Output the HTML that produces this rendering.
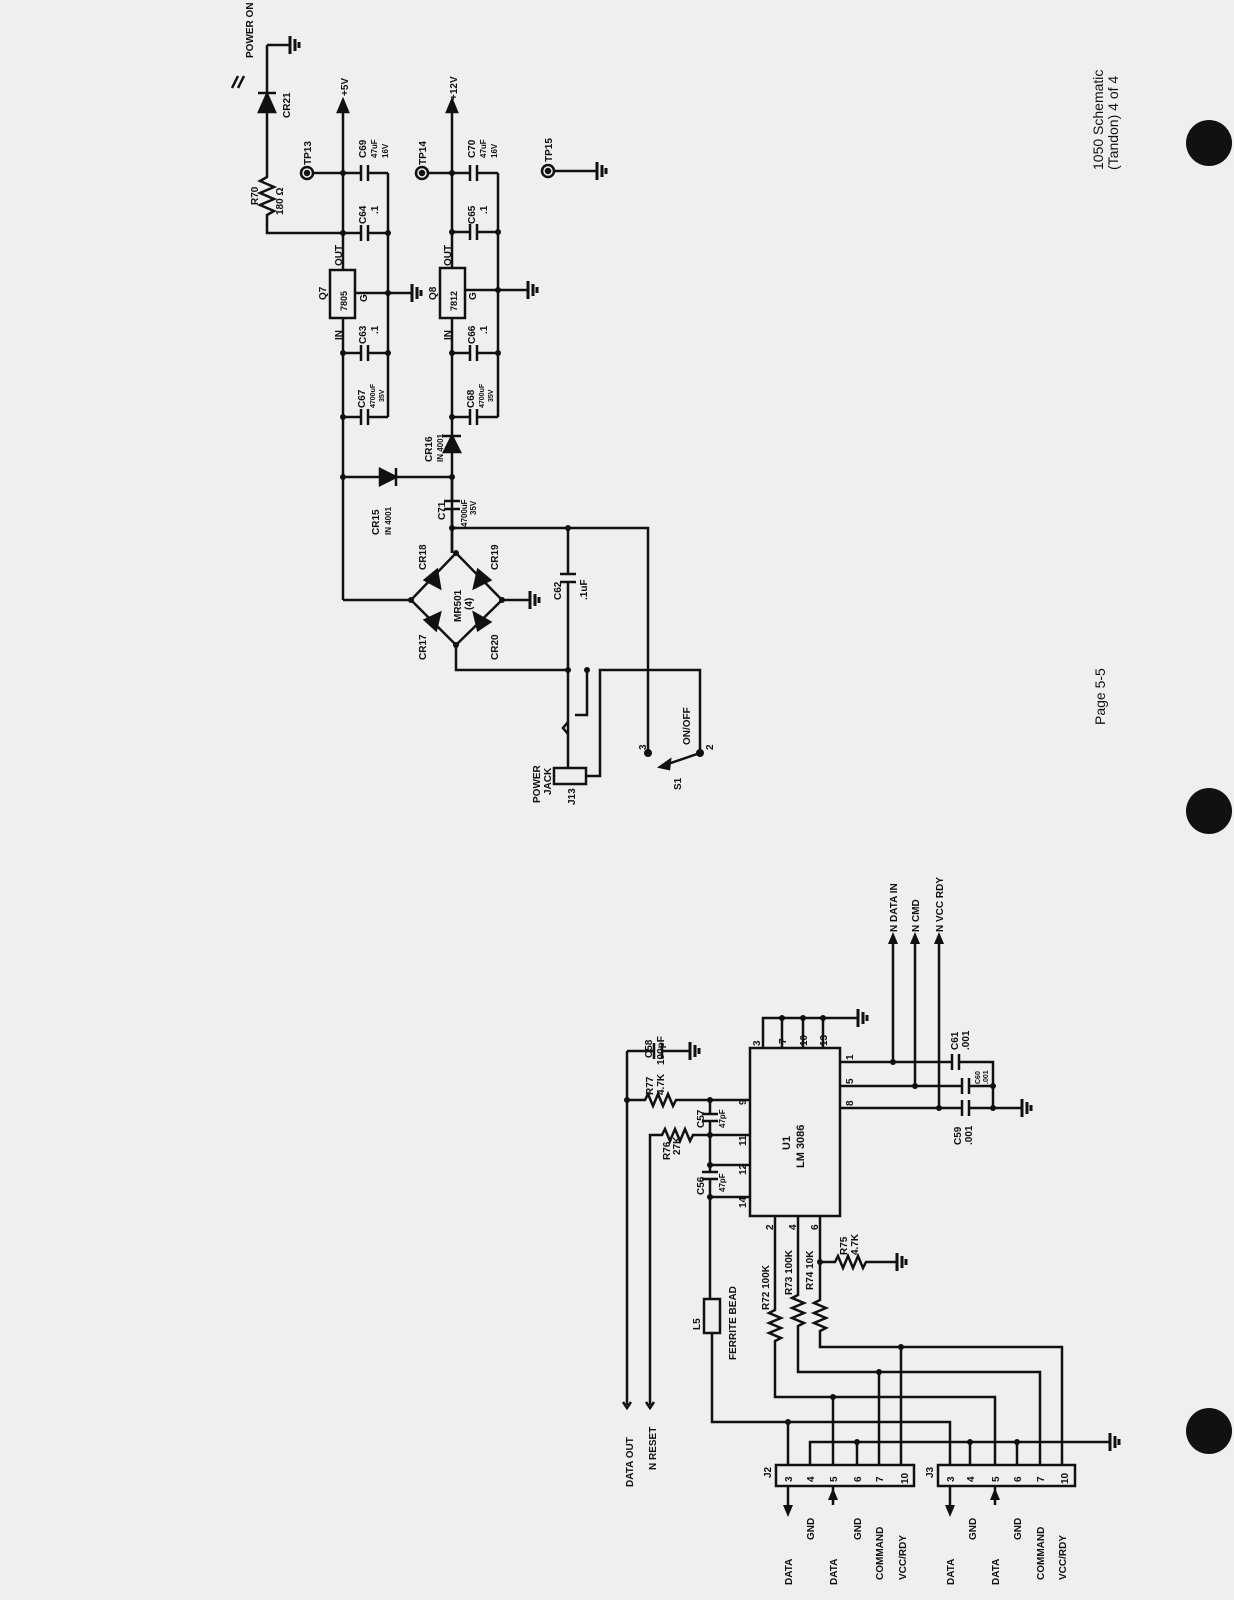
<!DOCTYPE html>
<html><head><meta charset="utf-8"><style>
html,body{margin:0;padding:0;background:#efefef;}
svg{display:block}
text{font-family:"Liberation Sans",sans-serif;fill:#111;font-weight:bold}
</style></head><body>
<svg width="1234" height="1600" viewBox="0 0 1234 1600" xmlns="http://www.w3.org/2000/svg">
<rect width="1234" height="1600" fill="#efefef"/>
<defs>
<g id="gndR"><line x1="0" y1="-9" x2="0" y2="9" stroke="#111" stroke-width="3"/><line x1="5" y1="-6" x2="5" y2="6" stroke="#111" stroke-width="3"/><line x1="9" y1="-3" x2="9" y2="3" stroke="#111" stroke-width="3"/></g>
</defs>
<g stroke="#111" stroke-width="2.5" fill="none">
<path d="M267 45 V177 l-7 4 l14 6 l-14 6 l14 6 l-14 6 l14 6 l-7 4 V233 H343"/>
<polygon points="259,112 275,112 267,94" fill="#111"/>
<line x1="258" y1="93" x2="276" y2="93"/>
<line x1="267" y1="45" x2="290" y2="45"/>
<use href="#gndR" x="290" y="45"/>
<path d="M232 88 l6 -12 M238 88 l6 -12"/>
<path d="M343 110 V600"/>
<polygon points="338,112 348,112 343,100" fill="#111"/>
<path d="M388 173 V417"/>
<circle cx="307" cy="173" r="6"/><circle cx="307" cy="173" r="2" fill="#111"/>
<path d="M313 173 H361 M369 173 H388"/>
<path d="M343 233 H361 M369 233 H388"/>
<path d="M343 353 H361 M369 353 H388"/>
<path d="M343 417 H361 M369 417 H388"/>
<path d="M355 293 H412"/>
<use href="#gndR" x="412" y="293"/>
<rect x="330" y="270" width="25" height="48" fill="#efefef"/>
<path d="M361 165 V181 M368 165 V181 M361 225 V241 M368 225 V241 M361 345 V361 M368 345 V361 M361 409 V425 M368 409 V425"/>
<path d="M452 110 V553"/>
<polygon points="447,112 457,112 452,100" fill="#111"/>
<path d="M498 173 V417"/>
<circle cx="422" cy="173" r="6"/><circle cx="422" cy="173" r="2" fill="#111"/>
<path d="M428 173 H470 M478 173 H498"/>
<path d="M452 232 H470 M478 232 H498"/>
<path d="M452 353 H470 M478 353 H498"/>
<path d="M452 417 H470 M478 417 H498"/>
<path d="M465 290 H528"/>
<use href="#gndR" x="528" y="290"/>
<rect x="440" y="268" width="25" height="50" fill="#efefef"/>
<path d="M470 165 V181 M477 165 V181 M470 224 V240 M477 224 V240 M470 345 V361 M477 345 V361 M470 409 V425 M477 409 V425"/>
<polygon points="444,452 460,452 452,436" fill="#111"/><line x1="443" y1="436" x2="461" y2="436"/>
<circle cx="548" cy="171" r="6"/><circle cx="548" cy="171" r="2" fill="#111"/>
<path d="M554 171 H597"/><use href="#gndR" x="597" y="171"/>
<path d="M346 477 H452"/>
<polygon points="380,469 380,485 396,477" fill="#111"/><line x1="396" y1="468" x2="396" y2="486"/>
<path d="M452 477 V501 M452 509 V553 M444 501 H460 M444 509 H460"/>
<path d="M452 528 H648 V753"/>
<path d="M343 600 H411"/>
<path d="M411 600 L456 553 L502 600 L456 645 Z"/>
<path d="M502 600 H530"/><use href="#gndR" x="530" y="600"/>
<polygon points="425,580 437,570 440,588" fill="#111"/>
<polygon points="478,570 490,580 474,588" fill="#111"/>
<polygon points="425,620 440,613 436,630" fill="#111"/>
<polygon points="474,613 490,622 478,630" fill="#111"/>
<path d="M456 645 V670 H568"/>
<path d="M568 528 V574 M568 582 V767 M560 574 H576 M560 582 H576"/>
<path d="M587 670 V715 H575"/>
<path d="M568 722 l-5 6 l5 6"/>
<rect x="554" y="768" width="32" height="16"/>
<path d="M586 776 H600 V670 H700 V753"/>
<path d="M700 753 L665 765"/>
<polygon points="660,767 670,760 669,769" fill="#111"/>
</g>
<g fill="#111">
<circle cx="343" cy="173" r="3"/><circle cx="343" cy="233" r="3"/><circle cx="388" cy="233" r="3"/><circle cx="388" cy="293" r="3"/>
<circle cx="343" cy="353" r="3"/><circle cx="388" cy="353" r="3"/><circle cx="343" cy="417" r="3"/>
<circle cx="452" cy="173" r="3"/><circle cx="452" cy="232" r="3"/><circle cx="498" cy="232" r="3"/><circle cx="498" cy="290" r="3"/>
<circle cx="452" cy="353" r="3"/><circle cx="498" cy="353" r="3"/><circle cx="452" cy="417" r="3"/>
<circle cx="343" cy="477" r="3"/><circle cx="452" cy="477" r="3"/><circle cx="452" cy="528" r="3"/><circle cx="568" cy="528" r="3"/>
<circle cx="411" cy="600" r="3"/><circle cx="456" cy="553" r="3"/><circle cx="502" cy="600" r="3"/><circle cx="456" cy="645" r="3"/>
<circle cx="568" cy="670" r="3"/><circle cx="587" cy="670" r="3"/><circle cx="648" cy="753" r="4"/><circle cx="700" cy="753" r="4"/>
</g>
<g font-size="10">
<text transform="translate(253,58) rotate(-90)">POWER ON</text>
<text transform="translate(290,118) rotate(-90)">CR21</text>
<text transform="translate(258,205) rotate(-90)">R70</text>
<text transform="translate(283,215) rotate(-90)">180 Ω</text>
<text transform="translate(348,96) rotate(-90)">+5V</text>
<text transform="translate(457,100) rotate(-90)">+12V</text>
<text transform="translate(311,165) rotate(-90)">TP13</text>
<text transform="translate(426,165) rotate(-90)">TP14</text>
<text transform="translate(552,162) rotate(-90)">TP15</text>
<text transform="translate(366,158) rotate(-90)">C69</text>
<text transform="translate(377,158) rotate(-90)" font-size="8">47uF</text>
<text transform="translate(388,158) rotate(-90)" font-size="8">16V</text>
<text transform="translate(475,158) rotate(-90)">C70</text>
<text transform="translate(486,158) rotate(-90)" font-size="8">47uF</text>
<text transform="translate(497,158) rotate(-90)" font-size="8">16V</text>
<text transform="translate(366,224) rotate(-90)">C64</text>
<text transform="translate(378,214) rotate(-90)">.1</text>
<text transform="translate(475,224) rotate(-90)">C65</text>
<text transform="translate(487,214) rotate(-90)">.1</text>
<text transform="translate(366,344) rotate(-90)">C63</text>
<text transform="translate(378,334) rotate(-90)">.1</text>
<text transform="translate(475,344) rotate(-90)">C66</text>
<text transform="translate(487,334) rotate(-90)">.1</text>
<text transform="translate(365,408) rotate(-90)">C67</text>
<text transform="translate(375,408) rotate(-90)" font-size="7">4700uF</text>
<text transform="translate(384,402) rotate(-90)" font-size="7">35V</text>
<text transform="translate(474,408) rotate(-90)">C68</text>
<text transform="translate(484,408) rotate(-90)" font-size="7">4700uF</text>
<text transform="translate(493,402) rotate(-90)" font-size="7">35V</text>
<text transform="translate(326,300) rotate(-90)">Q7</text>
<text transform="translate(347,311) rotate(-90)" font-size="9">7805</text>
<text transform="translate(342,266) rotate(-90)">OUT</text>
<text transform="translate(342,340) rotate(-90)">IN</text>
<text transform="translate(367,302) rotate(-90)">G</text>
<text transform="translate(436,300) rotate(-90)">Q8</text>
<text transform="translate(457,311) rotate(-90)" font-size="9">7812</text>
<text transform="translate(451,266) rotate(-90)">OUT</text>
<text transform="translate(451,340) rotate(-90)">IN</text>
<text transform="translate(476,300) rotate(-90)">G</text>
<text transform="translate(432,462) rotate(-90)">CR16</text>
<text transform="translate(443,462) rotate(-90)" font-size="8">IN 4001</text>
<text transform="translate(379,535) rotate(-90)">CR15</text>
<text transform="translate(391,535) rotate(-90)" font-size="8">IN 4001</text>
<text transform="translate(445,520) rotate(-90)">C71</text>
<text transform="translate(467,527) rotate(-90)" font-size="8">4700uF</text>
<text transform="translate(476,515) rotate(-90)" font-size="8">35V</text>
<text transform="translate(426,570) rotate(-90)">CR18</text>
<text transform="translate(498,570) rotate(-90)">CR19</text>
<text transform="translate(426,660) rotate(-90)">CR17</text>
<text transform="translate(498,660) rotate(-90)">CR20</text>
<text transform="translate(461,622) rotate(-90)">MR501</text>
<text transform="translate(472,610) rotate(-90)">(4)</text>
<text transform="translate(561,600) rotate(-90)">C62</text>
<text transform="translate(587,600) rotate(-90)">.1uF</text>
<text transform="translate(540,803) rotate(-90)">POWER</text>
<text transform="translate(551,795) rotate(-90)">JACK</text>
<text transform="translate(575,805) rotate(-90)">J13</text>
<text transform="translate(646,750) rotate(-90)">3</text>
<text transform="translate(713,750) rotate(-90)">2</text>
<text transform="translate(690,745) rotate(-90)">ON/OFF</text>
<text transform="translate(681,790) rotate(-90)">S1</text>
</g>
<g stroke="#111" stroke-width="2.5" fill="none">
<rect x="750" y="1048" width="90" height="168"/>
<path d="M763 1048 V1018 H858 M782 1048 V1018 M803 1048 V1018 M823 1048 V1018"/>
<use href="#gndR" x="858" y="1018"/>
<path d="M627 1051 H654 M662 1051 H690"/>
<path d="M654 1043 V1059 M662 1043 V1059"/>
<use href="#gndR" x="690" y="1051"/>
<path d="M627 1051 V1405"/>
<path d="M627 1100 H645 l3 -6 l5 12 l5 -12 l5 12 l5 -12 l5 12 l3 -6 H750"/>
<path d="M650 1405 V1135 H662 l3 -6 l5 12 l5 -12 l5 12 l5 -12 l5 12 l3 -6 H750"/>
<path d="M710 1100 V1114 M710 1121 V1172 M710 1179 V1299 M702 1114 H718 M702 1121 H718 M702 1172 H718 M702 1179 H718"/>
<path d="M710 1165 H750 M710 1197 H750"/>
<rect x="704" y="1299" width="16" height="34"/>
<path d="M712 1333 V1422 H950 V1465"/>
<path d="M623 1402 l4 6 l4 -6 M646 1402 l4 6 l4 -6"/>
<path d="M840 1062 H952 M959 1062 H993 V1108 M840 1086 H962 M969 1086 H993 M840 1108 H962 M969 1108 H1022"/>
<path d="M952 1054 V1070 M959 1054 V1070 M962 1078 V1094 M969 1078 V1094 M962 1100 V1116 M969 1100 V1116"/>
<use href="#gndR" x="1022" y="1108"/>
<path d="M893 1062 V940 M915 1086 V940 M939 1108 V940"/>
<path d="M775 1216 V1310 l-6 3 l12 5 l-12 5 l12 5 l-12 5 l12 5 l-6 3 V1397 H995 V1465"/>
<path d="M798 1216 V1295 l-6 3 l12 5 l-12 5 l12 5 l-12 5 l12 5 l-6 3 V1372 H1040 V1465"/>
<path d="M820 1216 V1300 l-6 3 l12 5 l-12 5 l12 5 l-12 5 l12 5 l-6 3 V1347 H1062 V1465"/>
<path d="M820 1262 H835 l3 -6 l5 12 l5 -12 l5 12 l5 -12 l5 12 l3 -6 H897"/>
<use href="#gndR" x="897" y="1262"/>
<path d="M788 1422 V1465 M833 1397 V1465 M879 1372 V1465 M901 1347 V1465"/>
<path d="M810 1465 V1442 H1110 M857 1442 V1465 M970 1442 V1465 M1017 1442 V1465"/>
<use href="#gndR" x="1110" y="1442"/>
<rect x="776" y="1465" width="138" height="21"/>
<rect x="938" y="1465" width="137" height="21"/>
<path d="M788 1486 V1505 M833 1486 V1505 M950 1486 V1505 M995 1486 V1505"/>
</g>
<g fill="#111">
<polygon points="888,944 898,944 893,932"/><polygon points="910,944 920,944 915,932"/><polygon points="934,944 944,944 939,932"/>
<polygon points="783,1505 793,1505 788,1517"/><polygon points="828,1500 838,1500 833,1488"/>
<polygon points="945,1505 955,1505 950,1517"/><polygon points="990,1500 1000,1500 995,1488"/>
<circle cx="782" cy="1018" r="3"/><circle cx="803" cy="1018" r="3"/><circle cx="823" cy="1018" r="3"/>
<circle cx="627" cy="1100" r="3"/><circle cx="710" cy="1100" r="3"/><circle cx="710" cy="1135" r="3"/><circle cx="710" cy="1165" r="3"/><circle cx="710" cy="1197" r="3"/>
<circle cx="893" cy="1062" r="3"/><circle cx="915" cy="1086" r="3"/><circle cx="939" cy="1108" r="3"/><circle cx="993" cy="1086" r="3"/><circle cx="993" cy="1108" r="3"/>
<circle cx="820" cy="1262" r="3"/>
<circle cx="788" cy="1422" r="3"/><circle cx="833" cy="1397" r="3"/><circle cx="879" cy="1372" r="3"/><circle cx="901" cy="1347" r="3"/>
<circle cx="857" cy="1442" r="3"/><circle cx="970" cy="1442" r="3"/><circle cx="1017" cy="1442" r="3"/>
<circle cx="1209" cy="143" r="23"/><circle cx="1209" cy="811" r="23"/><circle cx="1209" cy="1431" r="23"/>
</g>
<g font-size="10">
<text transform="translate(652,1058) rotate(-90)">C58</text>
<text transform="translate(664,1065) rotate(-90)">100pF</text>
<text transform="translate(653,1095) rotate(-90)">R77</text>
<text transform="translate(664,1095) rotate(-90)">4.7K</text>
<text transform="translate(670,1160) rotate(-90)">R76</text>
<text transform="translate(680,1155) rotate(-90)">27K</text>
<text transform="translate(704,1128) rotate(-90)">C57</text>
<text transform="translate(725,1128) rotate(-90)" font-size="8">47pF</text>
<text transform="translate(704,1195) rotate(-90)">C56</text>
<text transform="translate(725,1192) rotate(-90)" font-size="8">47pF</text>
<text transform="translate(746,1105) rotate(-90)">9</text>
<text transform="translate(746,1146) rotate(-90)">11</text>
<text transform="translate(746,1175) rotate(-90)">12</text>
<text transform="translate(746,1208) rotate(-90)">14</text>
<text transform="translate(760,1046) rotate(-90)">3</text>
<text transform="translate(786,1044) rotate(-90)">7</text>
<text transform="translate(807,1046) rotate(-90)">10</text>
<text transform="translate(827,1046) rotate(-90)">13</text>
<text transform="translate(853,1060) rotate(-90)">1</text>
<text transform="translate(853,1084) rotate(-90)">5</text>
<text transform="translate(853,1106) rotate(-90)">8</text>
<text transform="translate(773,1230) rotate(-90)">2</text>
<text transform="translate(796,1230) rotate(-90)">4</text>
<text transform="translate(818,1230) rotate(-90)">6</text>
<text transform="translate(790,1150) rotate(-90)" font-size="11">U1</text>
<text transform="translate(804,1168) rotate(-90)" font-size="11">LM 3086</text>
<text transform="translate(897,932) rotate(-90)">N DATA IN</text>
<text transform="translate(919,932) rotate(-90)">N CMD</text>
<text transform="translate(943,932) rotate(-90)">N VCC RDY</text>
<text transform="translate(958,1050) rotate(-90)">C61</text>
<text transform="translate(969,1050) rotate(-90)">.001</text>
<text transform="translate(980,1084) rotate(-90)" font-size="7">C60</text>
<text transform="translate(988,1084) rotate(-90)" font-size="7">.001</text>
<text transform="translate(961,1145) rotate(-90)">C59</text>
<text transform="translate(972,1145) rotate(-90)">.001</text>
<text transform="translate(847,1255) rotate(-90)">R75</text>
<text transform="translate(858,1255) rotate(-90)">4.7K</text>
<text transform="translate(769,1310) rotate(-90)">R72 100K</text>
<text transform="translate(792,1295) rotate(-90)">R73 100K</text>
<text transform="translate(813,1290) rotate(-90)">R74 10K</text>
<text transform="translate(700,1330) rotate(-90)">L5</text>
<text transform="translate(736,1360) rotate(-90)">FERRITE BEAD</text>
<text transform="translate(633,1487) rotate(-90)">DATA OUT</text>
<text transform="translate(656,1470) rotate(-90)">N RESET</text>
<text transform="translate(771,1478) rotate(-90)">J2</text>
<text transform="translate(933,1478) rotate(-90)">J3</text>
<text transform="translate(792,1482) rotate(-90)">3</text><text transform="translate(814,1482) rotate(-90)">4</text><text transform="translate(837,1482) rotate(-90)">5</text><text transform="translate(861,1482) rotate(-90)">6</text><text transform="translate(883,1482) rotate(-90)">7</text><text transform="translate(908,1484) rotate(-90)">10</text>
<text transform="translate(954,1482) rotate(-90)">3</text><text transform="translate(974,1482) rotate(-90)">4</text><text transform="translate(999,1482) rotate(-90)">5</text><text transform="translate(1021,1482) rotate(-90)">6</text><text transform="translate(1044,1482) rotate(-90)">7</text><text transform="translate(1068,1484) rotate(-90)">10</text>
<text transform="translate(792,1585) rotate(-90)">DATA</text>
<text transform="translate(814,1540) rotate(-90)">GND</text>
<text transform="translate(837,1585) rotate(-90)">DATA</text>
<text transform="translate(861,1540) rotate(-90)">GND</text>
<text transform="translate(883,1580) rotate(-90)">COMMAND</text>
<text transform="translate(906,1580) rotate(-90)">VCC/RDY</text>
<text transform="translate(954,1585) rotate(-90)">DATA</text>
<text transform="translate(976,1540) rotate(-90)">GND</text>
<text transform="translate(999,1585) rotate(-90)">DATA</text>
<text transform="translate(1021,1540) rotate(-90)">GND</text>
<text transform="translate(1044,1580) rotate(-90)">COMMAND</text>
<text transform="translate(1066,1580) rotate(-90)">VCC/RDY</text>
</g>
<g font-size="14">
<text transform="translate(1103,170) rotate(-90)" style="font-weight:normal">1050 Schematic</text>
<text transform="translate(1118,170) rotate(-90)" style="font-weight:normal">(Tandon) 4 of 4</text>
<text transform="translate(1105,725) rotate(-90)" style="font-weight:normal">Page 5-5</text>
</g>
</svg>
</body></html>
